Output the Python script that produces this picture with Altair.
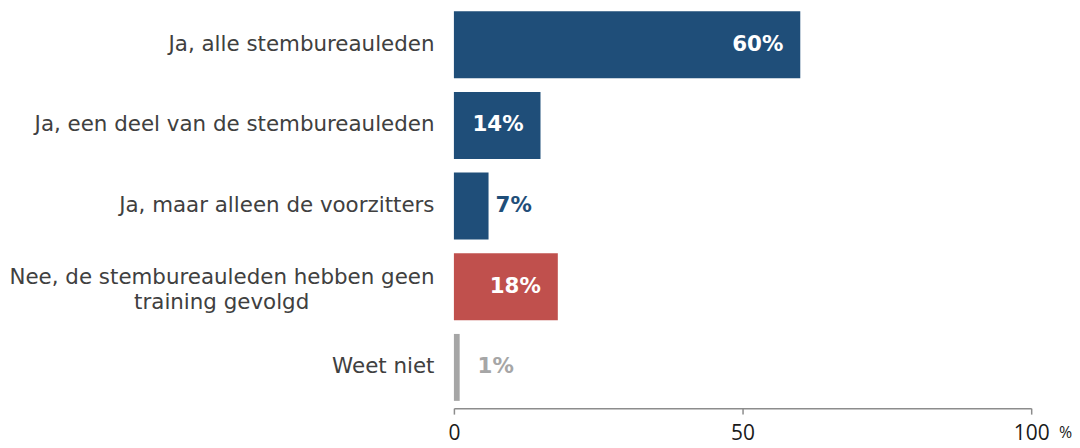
import altair as alt
import pandas as pd

categories = [
    "Ja, alle stembureauleden",
    "Ja, een deel van de stembureauleden",
    "Ja, maar alleen de voorzitters",
    "Nee, de stembureauleden hebben geen training gevolgd",
    "Weet niet",
]
values = [60, 15, 6, 18, 1]
value_labels = ["60%", "14%", "7%", "18%", "1%"]
groups = ["ja", "ja", "ja", "nee", "weet"]
x_ticks = [0, 50, 100]

df = pd.DataFrame({"cat": categories, "v": values, "lab": value_labels, "grp": groups})

LONG = "Nee, de stembureauleden hebben geen training gevolgd"
PAD = "\u2800" * 8
label_expr = (
    "datum.value == '" + LONG + "' ? "
    "['Nee, de stembureauleden hebben geen', 'training gevolgd" + PAD + "'] : datum.value"
)

color_scale = alt.Scale(domain=["ja", "nee", "weet"], range=["#1F4E79", "#C0504D", "#A6A6A6"])

y_enc = alt.Y(
    "cat:N",
    sort=categories,
    title=None,
    scale=alt.Scale(paddingInner=0.17, paddingOuter=0.09),
    axis=alt.Axis(
        domain=False, ticks=False, labelPadding=20, labelLimit=440,
        labelFont="DejaVu Sans", labelFontSize=21.5, labelColor="#404040",
        labelExpr=label_expr, labelLineHeight=25,
        labelOffset={"condition": {"test": "datum.value == '" + LONG + "'", "value": -9}, "value": 0},
        minExtent=443, maxExtent=443,
    ),
)

x_enc = alt.X(
    "v:Q",
    scale=alt.Scale(domain=[0, 100], nice=False),
    title="%",
    axis=alt.Axis(
        values=x_ticks, grid=False, domainColor="#8c8c8c", domainWidth=1.5,
        tickColor="#8c8c8c", tickWidth=1.5, tickSize=6, labelPadding=9,
        labelFlush=False, labelOverlap=False,
        labelFont="Open Sans", labelFontSize=21, labelColor="#1a1a1a",
        titleFont="Open Sans", titleFontSize=16, titleFontWeight="normal",
        titleColor="#1a1a1a", titleAngle=0, titleAlign="center",
        titleBaseline="alphabetic", titleX=614, titleY=29,
    ),
)

bars = alt.Chart(df).mark_bar().encode(
    y=y_enc,
    x=x_enc,
    color=alt.Color("grp:N", scale=color_scale, legend=None),
)

base_text = alt.Chart(df).transform_calculate(
    lx="datum.v < 3 ? 2.9 : datum.v"
)

inside = base_text.transform_filter("datum.v >= 10").mark_text(
    align="right", baseline="middle", dx=-17, font="DejaVu Sans",
    fontSize=21.5, fontWeight="bold", color="white",
).encode(
    y=alt.Y("cat:N", sort=categories),
    x=alt.X("lx:Q"),
    text="lab:N",
)

outside = base_text.transform_filter("datum.v < 10").mark_text(
    align="left", baseline="middle", dx=7, font="DejaVu Sans",
    fontSize=21.5, fontWeight="bold",
).encode(
    y=alt.Y("cat:N", sort=categories),
    x=alt.X("lx:Q"),
    text="lab:N",
    color=alt.Color("grp:N", scale=color_scale, legend=None),
)

chart = alt.layer(bars, inside, outside).properties(
    width=580, height=406,
    padding={"left": 0, "top": -5, "right": 0, "bottom": 0},
).configure_view(stroke=None)

chart.save("out.html", embed_options={"renderer": "svg", "actions": False})
